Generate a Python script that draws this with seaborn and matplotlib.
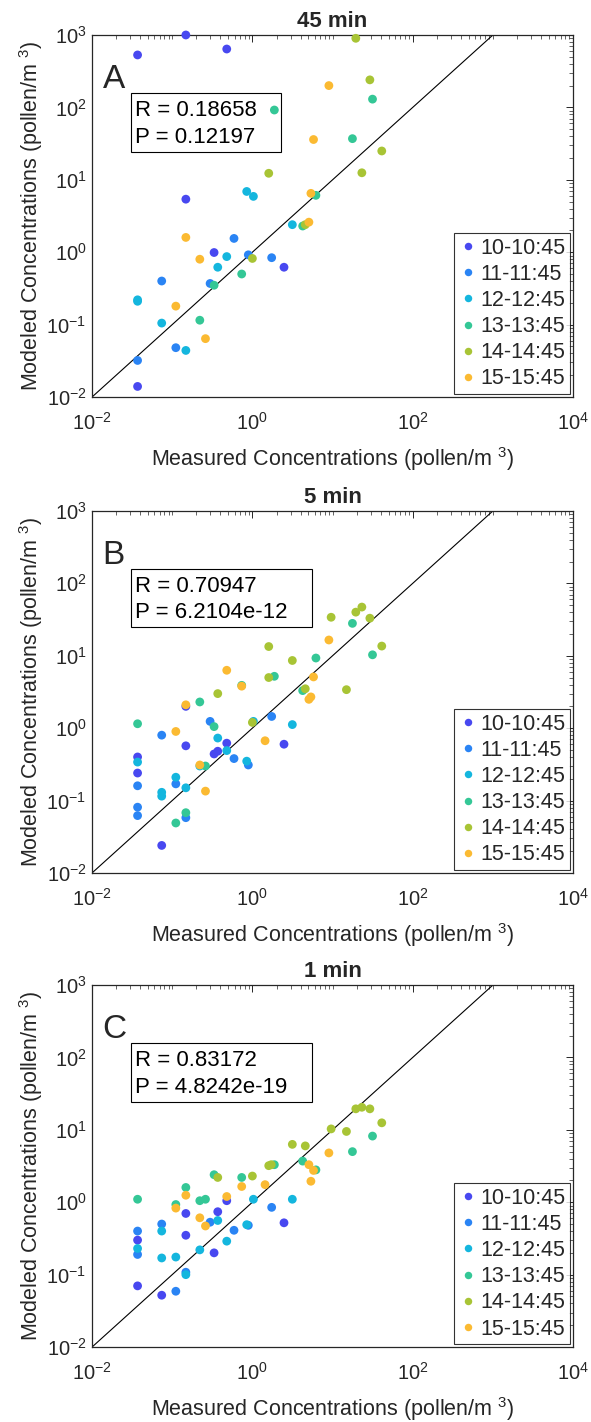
import numpy as np
import pandas as pd
import matplotlib
matplotlib.use('Agg')
import matplotlib.pyplot as plt
import matplotlib.ticker as mticker
from matplotlib.patches import Rectangle
import seaborn as sns

#%% data (measured, modeled) per hour group
groups = ['10-10:45', '11-11:45', '12-12:45', '13-13:45', '14-14:45', '15-15:45']
colors = ['#4848F0', '#2A84F4', '#14B6DE', '#34C796', '#A8C435', '#FBBA32']

# panel A, 45 min
a_meas = {
    '10-10:45': [0.037, 0.148, 0.479, 0.148, 0.333, 2.48, 0.037],
    '11-11:45': [0.59, 0.89, 1.74, 0.074, 0.297, 0.111, 0.037],
    '12-12:45': [0.85, 1.03, 3.15, 0.479, 0.37, 0.037, 0.037, 0.074, 0.148],
    '13-13:45': [1.88, 31.5, 17.7, 6.2, 4.24, 0.736, 0.333, 0.221],
    '14-14:45': [19.5, 29.2, 41.1, 23.2, 1.6, 4.57, 1.0],
    '15-15:45': [9.0, 5.79, 5.37, 5.07, 0.148, 0.221, 0.111, 0.26],
}
a_mod = {
    '10-10:45': [530, 1000, 640, 5.4, 0.99, 0.62, 0.014],
    '11-11:45': [1.55, 0.92, 0.84, 0.40, 0.37, 0.048, 0.032],
    '12-12:45': [6.9, 5.9, 2.4, 0.87, 0.62, 0.22, 0.21, 0.105, 0.044],
    '13-13:45': [92, 130, 37, 6.1, 2.3, 0.5, 0.35, 0.115],
    '14-14:45': [900, 240, 25, 12.5, 12.3, 2.4, 0.82],
    '15-15:45': [200, 36, 6.5, 2.6, 1.6, 0.8, 0.18, 0.064],
}

# panel B, 5 min
b_meas = {
    '10-10:45': [0.148, 0.479, 2.48, 0.148, 0.37, 0.333, 0.037, 0.037, 0.074],
    '11-11:45': [0.297, 1.74, 0.074, 0.59, 0.89, 0.111, 0.037, 0.037, 0.037, 0.148],
    '12-12:45': [1.03, 3.15, 0.37, 0.479, 0.85, 0.037, 0.221, 0.111, 0.074, 0.074, 0.148],
    '13-13:45': [17.7, 31.5, 6.2, 1.88, 0.736, 4.24, 0.221, 0.333, 0.037, 0.26, 0.148, 0.111],
    '14-14:45': [23.2, 19.5, 9.6, 29.2, 41.1, 1.6, 3.15, 1.6, 4.57, 14.9, 0.37, 1.0],
    '15-15:45': [9.0, 5.79, 0.479, 0.736, 5.37, 5.07, 0.148, 0.111, 1.44, 0.221, 0.26],
}
b_mod = {
    '10-10:45': [2.0, 0.62, 0.60, 0.57, 0.48, 0.44, 0.40, 0.24, 0.024],
    '11-11:45': [1.24, 1.45, 0.80, 0.38, 0.31, 0.17, 0.16, 0.081, 0.062, 0.058],
    '12-12:45': [1.24, 1.12, 0.73, 0.49, 0.35, 0.34, 0.30, 0.21, 0.13, 0.115, 0.15],
    '13-13:45': [28, 10.3, 9.3, 5.2, 3.9, 3.3, 2.3, 1.05, 1.15, 0.30, 0.068, 0.049],
    '14-14:45': [47, 40, 34, 33, 13.6, 13.4, 8.6, 5.0, 3.5, 3.4, 3.0, 1.2],
    '15-15:45': [16.5, 5.1, 6.3, 3.8, 2.7, 2.5, 2.1, 0.9, 0.67, 0.31, 0.135],
}

# panel C, 1 min
c_meas = {
    '10-10:45': [0.479, 0.37, 0.148, 0.148, 0.037, 0.333, 2.48, 0.037, 0.074],
    '11-11:45': [1.74, 0.297, 0.074, 0.59, 0.89, 0.037, 0.037, 0.111, 0.148],
    '12-12:45': [1.03, 3.15, 0.37, 0.85, 0.074, 0.479, 0.221, 0.037, 0.074, 0.111, 0.148],
    '13-13:45': [31.5, 17.7, 1.88, 4.24, 6.2, 0.736, 0.333, 0.148, 0.037, 0.111, 0.221, 0.26],
    '14-14:45': [19.5, 23.2, 29.2, 41.1, 9.6, 14.9, 3.15, 4.57, 1.6, 1.72, 1.0, 0.37],
    '15-15:45': [9.0, 5.07, 5.79, 5.37, 1.44, 0.736, 0.479, 0.148, 0.111, 0.221, 0.26],
}
c_mod = {
    '10-10:45': [1.05, 0.74, 0.70, 0.35, 0.30, 0.20, 0.52, 0.070, 0.052],
    '11-11:45': [0.85, 0.53, 0.50, 0.41, 0.48, 0.40, 0.19, 0.059, 0.108],
    '12-12:45': [1.1, 1.1, 0.56, 0.49, 0.40, 0.29, 0.22, 0.23, 0.17, 0.175, 0.1],
    '13-13:45': [8.2, 5.0, 3.3, 3.7, 2.8, 2.2, 2.4, 1.6, 1.1, 0.93, 1.05, 1.1],
    '14-14:45': [19.5, 20.5, 19.5, 12.5, 10.3, 9.5, 6.3, 6.0, 3.2, 3.3, 2.3, 2.2],
    '15-15:45': [4.8, 3.3, 2.75, 1.95, 1.75, 1.65, 1.2, 1.25, 0.83, 0.61, 0.47],
}

titles = ['45 min', '5 min', '1 min']
letters = ['A', 'B', 'C']
stats = ['R = 0.18658\nP = 0.12197',
         'R = 0.70947\nP = 6.2104e-12',
         'R = 0.83172\nP = 4.8242e-19']


def to_frame(meas, mod):
    rows = []
    for g in groups:
        for x, y in zip(meas[g], mod[g]):
            rows.append({'Measured': x, 'Modeled': y, 'Hour': g})
    return pd.DataFrame(rows)


frames = [to_frame(a_meas, a_mod), to_frame(b_meas, b_mod), to_frame(c_meas, c_mod)]

#%% plot
sns.set_style('white')
plt.rcParams['font.family'] = ['Liberation Sans', 'DejaVu Sans']
plt.rcParams['mathtext.fontset'] = 'custom'
plt.rcParams['mathtext.rm'] = 'Liberation Sans'
plt.rcParams['mathtext.it'] = 'Liberation Sans'
dark = '#262626'

fig = plt.figure(figsize=(5.91, 14.22), dpi=100)
bottoms = [0.7208, 0.3861, 0.0527]
palette = dict(zip(groups, colors))
stat_texts = []

for i, df in enumerate(frames):
    ax = fig.add_axes([0.1557, bottoms[i], 0.814, 0.2546])
    sns.scatterplot(data=df, x='Measured', y='Modeled', hue='Hour',
                    palette=palette, hue_order=groups, s=40,
                    linewidth=0, ax=ax, zorder=3, clip_on=False)
    ax.set_xscale('log')
    ax.set_yscale('log')
    ax.plot([1e-2, 1e3], [1e-2, 1e3], color='black', lw=0.8, zorder=2)
    ax.set_xlim(1e-2, 1e4)
    ax.set_ylim(1e-2, 1e3)

    ax.xaxis.set_major_locator(mticker.LogLocator(base=100, numticks=10))
    ax.xaxis.set_minor_locator(mticker.LogLocator(base=10, subs=np.arange(1, 10), numticks=20))
    ax.yaxis.set_major_locator(mticker.LogLocator(base=10, numticks=10))
    ax.yaxis.set_minor_locator(mticker.LogLocator(base=10, subs=np.arange(2, 10), numticks=20))
    ax.xaxis.set_minor_formatter(mticker.NullFormatter())
    ax.yaxis.set_minor_formatter(mticker.NullFormatter())
    ax.tick_params(which='both', direction='in', top=True, right=True,
                   labelsize=14.5, colors=dark)
    ax.tick_params(which='major', length=5, width=0.7)
    ax.tick_params(which='minor', length=3, width=0.5)
    ax.tick_params(axis='x', which='major', pad=11)
    ax.tick_params(axis='y', which='major', pad=4)
    for sp in ax.spines.values():
        sp.set_color(dark)
        sp.set_linewidth(0.9)

    ax.set_xlabel('Measured Concentrations (pollen/m $^3$)', fontsize=15.5, color=dark, va='top')
    ax.set_ylabel('Modeled Concentrations (pollen/m $^3$)', fontsize=15.5, color=dark)
    ax.xaxis.set_label_coords(0.5, -0.133)
    ax.yaxis.set_label_coords(-0.097, 0.5)
    ax.set_title(titles[i], fontsize=16, fontweight='bold', pad=6)

    ax.text(0.022, 0.854, letters[i], transform=ax.transAxes, fontsize=24,
            va='baseline', ha='left')
    t = ax.text(0.09, 0.821, stats[i], transform=ax.transAxes, fontsize=16,
                va='top', ha='left', linespacing=1.36, color='black')
    stat_texts.append((ax, t))

    leg = ax.legend(loc='lower right', fontsize=15.5, frameon=True, fancybox=False,
                    edgecolor='black', handletextpad=0.15, borderpad=0.2,
                    labelspacing=0.24, handlelength=0.9, markerscale=0.85,
                    borderaxespad=0.15)
    leg.get_frame().set_linewidth(0.8)

# boxes round the R / P text (MATLAB annotation style, extra room on the right)
fig.canvas.draw()
r = fig.canvas.get_renderer()
inv = fig.transFigure.inverted()
for ax, t in stat_texts:
    bb = t.get_window_extent(renderer=r)
    (x0, y0) = inv.transform((bb.x0 - 4, bb.y0 - 4))
    (x1, y1) = inv.transform((bb.x1 + 24, bb.y1 + 7))
    fig.patches.append(Rectangle((x0, y0), x1 - x0, y1 - y0, transform=fig.transFigure,
                                 fill=False, ec='black', lw=0.8, figure=fig))

fig.savefig('out.png', dpi=100)
